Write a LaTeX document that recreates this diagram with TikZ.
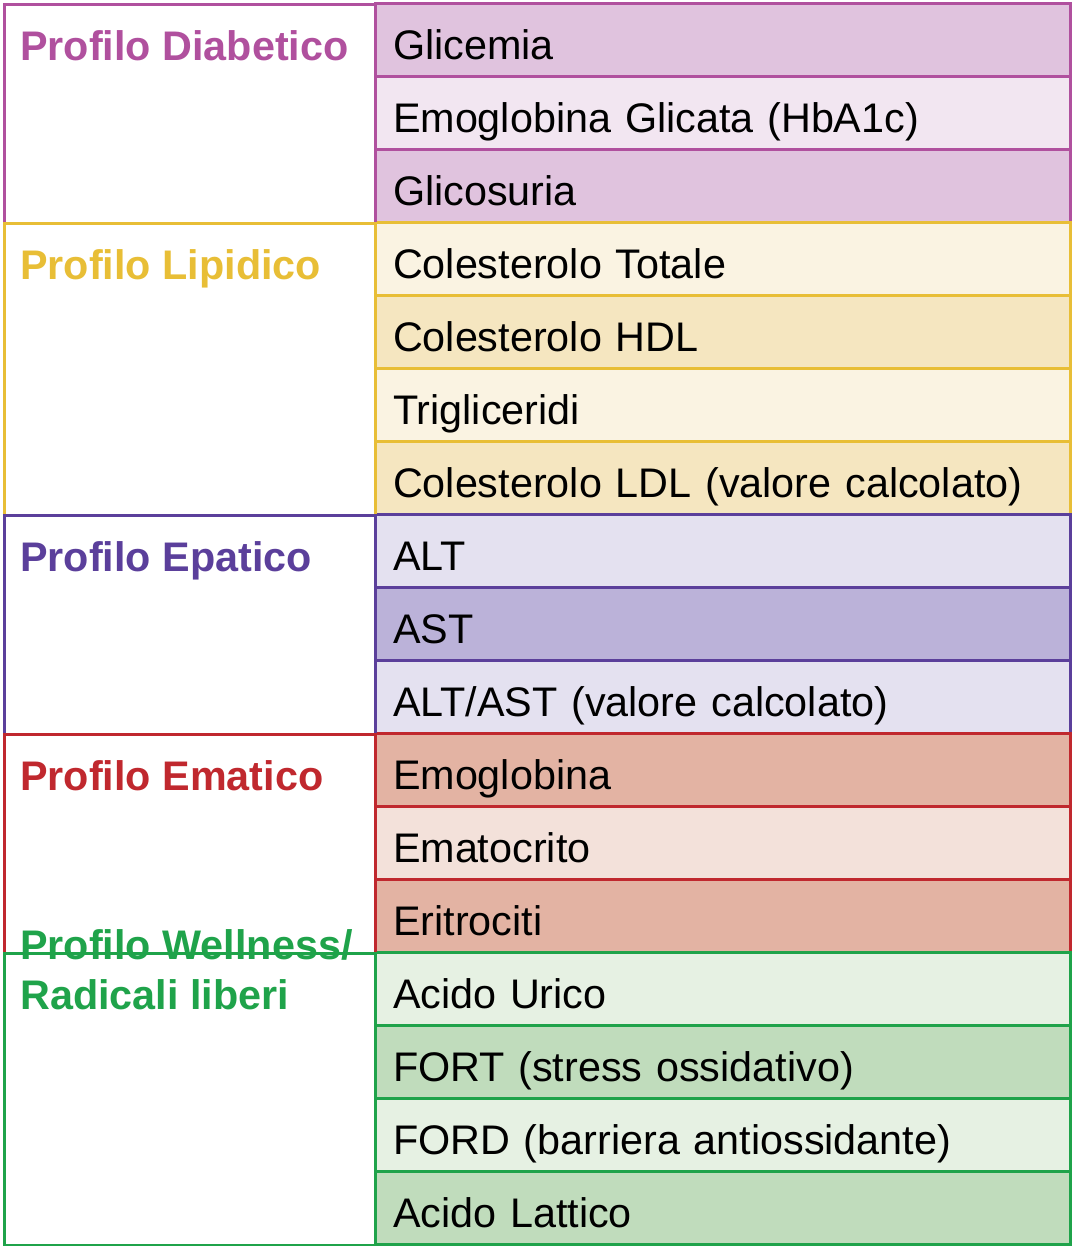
\documentclass[tikz,border=0pt]{standalone}
\usepackage{fontspec}
\setmainfont{Liberation Sans}
\usepackage{tikz}
\usetikzlibrary{positioning}

\definecolor{diaB}{HTML}{B0509E}\definecolor{diaD}{HTML}{E0C3DE}\definecolor{diaL}{HTML}{F2E6F1}
\definecolor{lipB}{HTML}{E8BE36}\definecolor{lipD}{HTML}{F5E6C0}\definecolor{lipL}{HTML}{FAF3E2}
\definecolor{epaB}{HTML}{5B3F9B}\definecolor{epaD}{HTML}{BBB2D9}\definecolor{epaL}{HTML}{E4E1F0}
\definecolor{emaB}{HTML}{C0282E}\definecolor{emaD}{HTML}{E3B3A3}\definecolor{emaL}{HTML}{F3E1DA}
\definecolor{welB}{HTML}{1FA34A}\definecolor{welD}{HTML}{C0DCBC}\definecolor{welL}{HTML}{E6F1E3}

\begin{document}
\begin{tikzpicture}[
            x=0.75pt,y=-0.75pt,
            cell/.style={anchor=west,minimum width=521.25pt,minimum height=54.75pt,
              text width=495pt,inner xsep=13.1pt,align=left,line width=2.25pt,
              text height=32pt,text depth=2pt,
              font=\fontsize{31}{37.5}\selectfont},
            group/.style={anchor=north west,minimum width=278.25pt,line width=2.25pt},
            lab/.style={anchor=base west,align=left,font=\fontsize{31}{37.5}\selectfont\bfseries,
              inner sep=0pt}
          ]
          \useasboundingbox (0,0) rectangle (1072,1246);
          %rows
          \foreach \n/\t/\c/\b in {
              1/Glicemia/diaD/diaB,
              2/Emoglobina Glicata (HbA1c)/diaL/diaB,
              3/Glicosuria/diaD/diaB,
              4/Colesterolo Totale/lipL/lipB,
              5/Colesterolo HDL/lipD/lipB,
              6/Trigliceridi/lipL/lipB,
              7/Colesterolo LDL (valore calcolato)/lipD/lipB,
              8/ALT/epaL/epaB,
              9/AST/epaD/epaB,
              10/ALT\slash AST (valore calcolato)/epaL/epaB,
              11/Emoglobina/emaD/emaB,
              12/Ematocrito/emaL/emaB,
              13/Eritrociti/emaD/emaB,
              14/Acido Urico/welL/welB,
              15/FORT (stress ossidativo)/welD/welB,
              16/FORD (barriera antiossidante)/welL/welB,
              17/Acido Lattico/welD/welB}
            \node[cell,draw=\b,fill=\c] (r\n) at (374,{3+73*(\n-0.5)}) {\t};

          %groups
          \foreach \g/\f/\h/\b/\t in {
              1/1/3/diaB/Profilo Diabetico,
              2/4/4/lipB/Profilo Lipidico,
              3/8/3/epaB/Profilo Epatico,
              4/11/3/emaB/Profilo Ematico,
              5/14/4/welB/{Profilo Wellness/\\Radicali liberi}}
          {
            \node[group,draw=\b,minimum height=\h*54.75pt] (g\g) at (3,{3+73*(\f-1)}) {};
            \node[lab,text=\b] (l\g) at (20,{3+73*(\f-1)+57}) {\t};
          }
      \end{tikzpicture}
\end{document}
